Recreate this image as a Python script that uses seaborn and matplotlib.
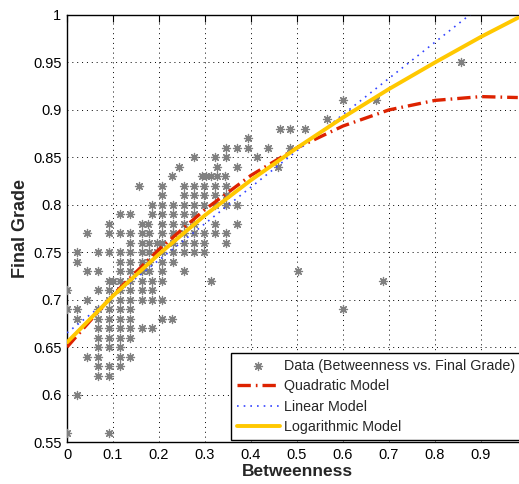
import numpy as np
import pandas as pd
import matplotlib
matplotlib.use('Agg')
import matplotlib.pyplot as plt
import seaborn as sns

#------------------------------------------------------------------------------
# data: one grade level -> betweenness values at that grade
grade_levels = [0.95, 0.91, 0.89, 0.88, 0.87, 0.86, 0.85, 0.84, 0.83, 0.82,
                0.81, 0.80, 0.79, 0.78, 0.77, 0.76, 0.75, 0.74, 0.73, 0.72,
                0.71, 0.70, 0.69, 0.68, 0.67, 0.66, 0.65, 0.64, 0.63, 0.62,
                0.60, 0.56]
betw_by_grade = [
    [0.856],
    [0.601, 0.672],
    [0.565],
    [0.462, 0.485, 0.518],
    [0.394],
    [0.346, 0.370, 0.394, 0.438, 0.485],
    [0.277, 0.322, 0.346, 0.414],
    [0.244, 0.325, 0.370, 0.458],
    [0.229, 0.293, 0.302, 0.312, 0.325, 0.343],
    [0.157, 0.206, 0.254, 0.277, 0.298, 0.322, 0.346],
    [0.206, 0.254, 0.277, 0.298, 0.322, 0.346],
    [0.185, 0.206, 0.231, 0.254, 0.277, 0.298, 0.322, 0.346, 0.370],
    [0.115, 0.138, 0.185, 0.206, 0.231, 0.254, 0.277],
    [0.091, 0.162, 0.176, 0.206, 0.231, 0.254, 0.277, 0.322, 0.370],
    [0.043, 0.091, 0.115, 0.138, 0.162, 0.178, 0.206, 0.231, 0.254, 0.277, 0.298, 0.322, 0.346],
    [0.138, 0.162, 0.178, 0.195, 0.206, 0.231, 0.254, 0.277, 0.298, 0.346],
    [0.021, 0.068, 0.091, 0.115, 0.138, 0.162, 0.178, 0.195, 0.206, 0.231, 0.254, 0.277, 0.298],
    [0.021, 0.115, 0.138, 0.162, 0.178, 0.206, 0.231],
    [0.043, 0.068, 0.115, 0.138, 0.162, 0.178, 0.206, 0.254, 0.503],
    [0.091, 0.100, 0.115, 0.138, 0.162, 0.185, 0.206, 0.312, 0.688],
    [0.000, 0.068, 0.091, 0.115, 0.138, 0.162, 0.185],
    [0.043, 0.091, 0.115, 0.138, 0.162, 0.185, 0.206],
    [0.000, 0.021, 0.068, 0.091, 0.115, 0.138, 0.599],
    [0.021, 0.068, 0.091, 0.115, 0.138, 0.206, 0.229],
    [0.068, 0.091, 0.115, 0.138, 0.162, 0.185],
    [0.068, 0.091, 0.115, 0.138],
    [0.068, 0.091, 0.115],
    [0.043, 0.068, 0.115, 0.138],
    [0.068, 0.091, 0.115],
    [0.068, 0.091],
    [0.021],
    [0.000, 0.091],
]

# model curves
model_x = [0.0, 0.1, 0.2, 0.3, 0.4, 0.5, 0.6, 0.7, 0.8, 0.9, 0.98]
quad_y = [0.650, 0.705, 0.753, 0.795, 0.831, 0.860, 0.883, 0.900, 0.910, 0.914, 0.913]
log_y = [0.655, 0.704, 0.748, 0.789, 0.826, 0.860, 0.892, 0.922, 0.950, 0.977, 0.997]
lin_x = [0.0, 0.5, 0.98]
lin_y = [0.665, 0.857, 1.040]

x_ticks = [0, 0.1, 0.2, 0.3, 0.4, 0.5, 0.6, 0.7, 0.8, 0.9]
y_ticks = [0.55, 0.6, 0.65, 0.7, 0.75, 0.8, 0.85, 0.9, 0.95, 1]
#------------------------------------------------------------------------------
rows = []
for g, xs in zip(grade_levels, betw_by_grade):
    for b in xs:
        rows.append({'Betweenness': b, 'Final Grade': g})
df = pd.DataFrame(rows)

sns.set_style('white')
plt.rcParams['font.family'] = ['Liberation Sans', 'DejaVu Sans']

fig = plt.figure(figsize=(5.19, 4.84), dpi=100)
ax = fig.add_axes([67/519, 1-442/484, 460/519, 427/484])

sns.scatterplot(data=df, x='Betweenness', y='Final Grade', ax=ax,
                marker=(8, 2, 0), s=34, color='#808080', linewidth=0.9,
                edgecolor='#808080', label='Data (Betweenness vs. Final Grade)',
                zorder=3)
sns.lineplot(x=model_x, y=quad_y, ax=ax, color='#dd2200', lw=2.4,
             linestyle=(0, (4, 1.5, 0.5, 1.5)), label='Quadratic Model',
             estimator=None, sort=False, zorder=4)
sns.lineplot(x=lin_x, y=lin_y, ax=ax, color='#3344ff', lw=1.2,
             linestyle=(0, (1, 3)), label='Linear Model',
             estimator=None, sort=False, zorder=4)
sns.lineplot(x=model_x, y=log_y, ax=ax, color='#ffc800', lw=2.8,
             label='Logarithmic Model', estimator=None, sort=False, zorder=5)

ax.set_xlim(0, 1.0)
ax.set_ylim(0.55, 1.0)
ax.set_xticks(x_ticks)
ax.set_xticklabels(['0', '0.1', '0.2', '0.3', '0.4', '0.5', '0.6', '0.7', '0.8', '0.9'])
ax.set_yticks(y_ticks)
ax.set_yticklabels(['0.55', '0.6', '0.65', '0.7', '0.75', '0.8', '0.85', '0.9', '0.95', '1'])
ax.tick_params(direction='in', length=5, width=0.8, top=True, right=True,
               labelsize=10.5, pad=4, colors='black')
for s in ax.spines.values():
    s.set_color('black')
    s.set_linewidth(1.0)
ax.grid(True, color='black', linestyle=(0, (1, 4)), linewidth=0.7)
ax.set_axisbelow(True)
ax.set_xlabel('Betweenness', fontsize=12.5, fontweight='bold', labelpad=2)
ax.set_ylabel('Final Grade', fontsize=13, fontweight='bold', labelpad=3)

leg = ax.legend(loc='lower left', bbox_to_anchor=((231-67)/460, 0.005),
                borderaxespad=0, fontsize=10.3, frameon=True, fancybox=False,
                framealpha=1, edgecolor='black', handlelength=3.0,
                labelspacing=0.45, borderpad=0.4, handletextpad=0.3)
leg.get_frame().set_linewidth(1.0)

plt.savefig('out.png', dpi=100)
